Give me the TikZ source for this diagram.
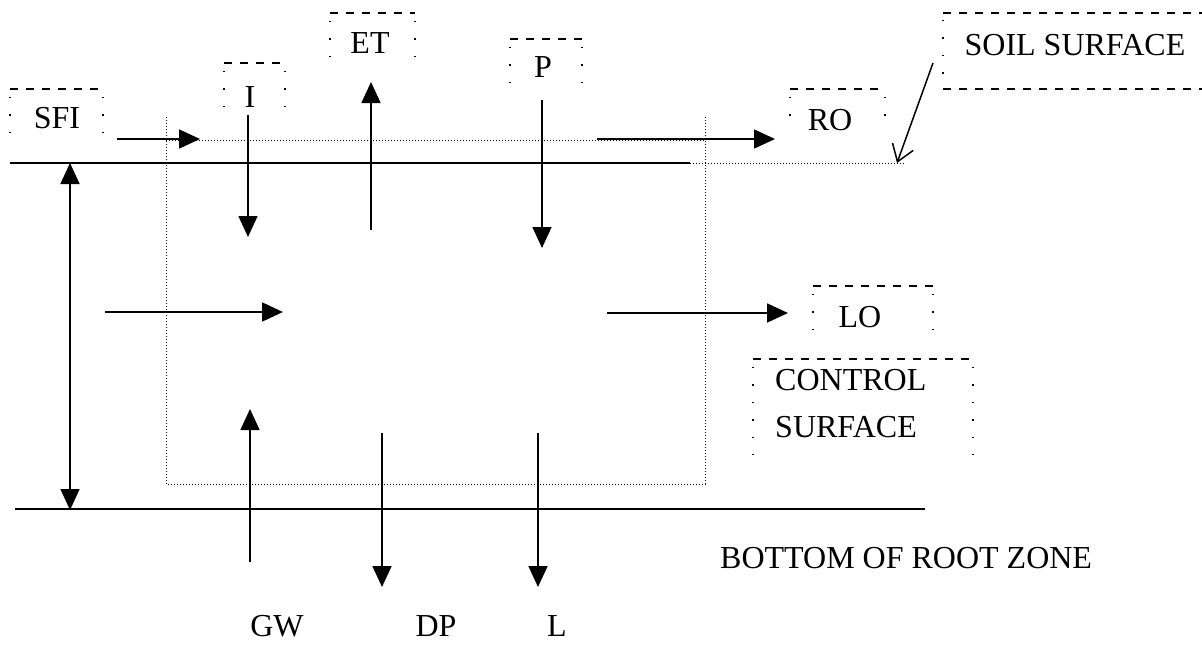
\documentclass[tikz,border=0pt]{standalone}
\usepackage{fontspec}
\setmainfont{Liberation Serif}
\usetikzlibrary{arrows.meta}
\newcommand{\lblbox}[4]{%
  \draw[boxtop] (#1,#2) -- (#3,#2);
  \draw[boxside] (#1,#2+8) -- (#1,#4);
  \draw[boxside] (#3,#2+8) -- (#3,#4);}

\begin{document}
\begin{tikzpicture}[x=1pt,y=-1pt,
  flux/.style={line width=1.7pt,-{Triangle[length=21pt,width=19pt]}},
  dbl/.style={line width=1.7pt,{Triangle[length=21pt,width=19pt]}-{Triangle[length=21pt,width=19pt]}},
  ptr/.style={line width=1.5pt,-{Straight Barb[length=16pt,width=22pt]}},
  ctrl/.style={line width=1pt,dash pattern=on 1pt off 2pt},
  boxtop/.style={line width=1.4pt,dash pattern=on 8pt off 8pt},
  boxside/.style={line width=1.4pt,dash pattern=on 1.4pt off 16pt},
  lbl/.style={font=\fontsize{32}{36}\selectfont,inner sep=0pt,anchor=base}]
  \useasboundingbox (0,0) rectangle (1202,645);
  % surfaces
  \coordinate (ssW) at (10,163);  \coordinate (ssM) at (690,163);  \coordinate (ssE) at (905,163);
  \coordinate (rzW) at (15,509);  \coordinate (rzE) at (925,509);
  \draw[line width=1.2pt] (ssW) -- (ssM);
  \draw[ctrl] (ssM) -- (ssE);
  \draw[line width=1.2pt] (rzW) -- (rzE);
  \draw[ctrl] (166,117) -- (166,484) -- (705,484) -- (705,117);
  \draw[ctrl] (166,140) -- (705,140);
  % labels
  \node[lbl] (sfi) at (57,128) {SFI};
    \lblbox{10}{89}{103}{135}
  \node[lbl] (irr) at (250,107) {I};
    \lblbox{224}{63}{285}{110}
  \node[lbl] (et) at (370,53) {ET};
    \lblbox{330}{13}{415}{58}
  \node[lbl] (pr) at (543,77) {P};
    \lblbox{510}{39}{582}{85}
  \node[lbl] (ro) at (830,130) {RO};
    \lblbox{790}{89}{885}{130}
  \node[lbl] (lo) at (860,327) {LO};
    \lblbox{813}{286}{933}{330}
  \node[lbl] (soil) at (1075,55) {SOIL SURFACE};
    \draw[boxtop] (943,13) -- (1202,13);
    \draw[boxtop] (943,89) -- (1202,89);
    \draw[boxside] (943,20) -- (943,82);
  \node[lbl,anchor=base west] (ctl) at (775,390) {CONTROL};
  \node[lbl,anchor=base west] (ctls) at (775,437) {SURFACE};
    \lblbox{753}{359}{973}{465}
  \node[lbl,anchor=base west] (rz) at (720,568) {BOTTOM OF ROOT ZONE};
  \node[lbl] (gw) at (277,636) {GW};
  \node[lbl] (dp) at (436,636) {DP};
  \node[lbl] (lk) at (557,636) {L};
  % flux arrows
  \coordinate (sfiS) at (117,139);  \coordinate (sfiE) at (200,139);
  \coordinate (irrS) at (248,115);  \coordinate (irrE) at (248,237);
  \coordinate (etS) at (371,230);   \coordinate (etE) at (371,82);
  \coordinate (prS) at (542,100);   \coordinate (prE) at (542,248);
  \coordinate (roS) at (597,139);   \coordinate (roE) at (775,139);
  \coordinate (liS) at (105,312);   \coordinate (liE) at (283,312);
  \coordinate (loS) at (607,313);   \coordinate (loE) at (788,313);
  \coordinate (gwS) at (250,562);   \coordinate (gwE) at (250,409);
  \coordinate (dpS) at (382,433);   \coordinate (dpE) at (382,587);
  \coordinate (lkS) at (538,433);   \coordinate (lkE) at (538,587);
  \draw[flux] (sfiS) -- (sfiE);
  \draw[flux] (irrS) -- (irrE);
  \draw[flux] (etS) -- (etE);
  \draw[flux] (prS) -- (prE);
  \draw[flux] (roS) -- (roE);
  \draw[flux] (liS) -- (liE);
  \draw[flux] (loS) -- (loE);
  \draw[flux] (gwS) -- (gwE);
  \draw[flux] (dpS) -- (dpE);
  \draw[flux] (lkS) -- (lkE);
  \draw[dbl] (70,163) coordinate (dTop) -- (70,510) coordinate (dBot);
  \coordinate (ptrS) at (933,63);  \coordinate (ptrE) at (897,163);
  \draw[ptr] (ptrS) -- (ptrE);
\end{tikzpicture}
\end{document}
